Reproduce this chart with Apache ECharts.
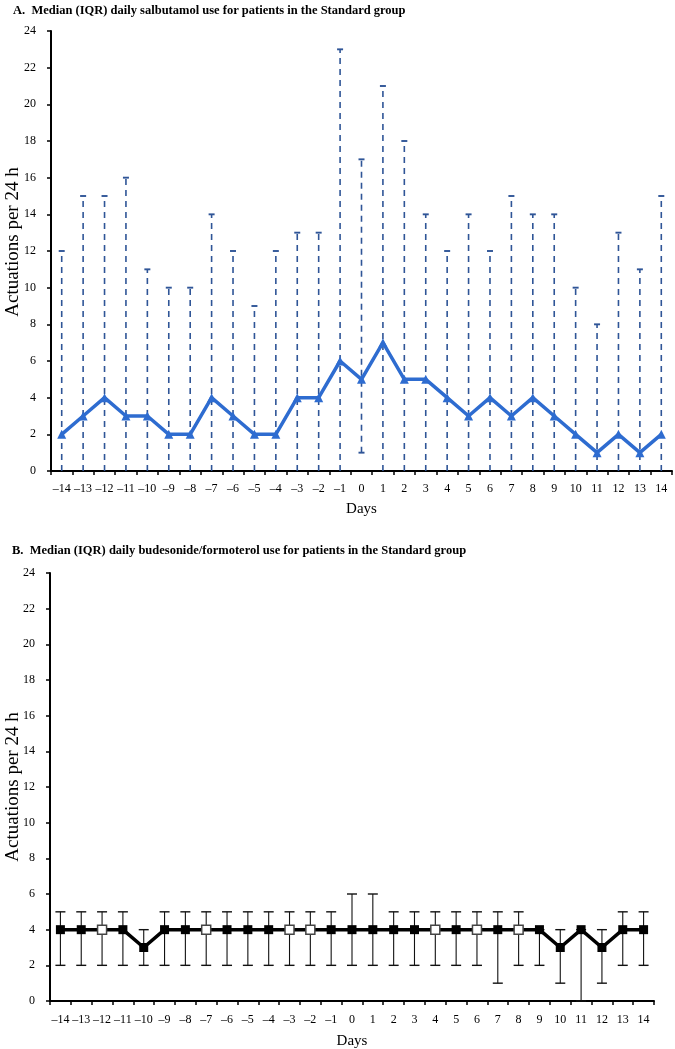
<!DOCTYPE html>
<html>
<head>
<meta charset="utf-8">
<script src="https://cdn.jsdelivr.net/npm/echarts@6/dist/echarts.min.js"></script>
<style>
html,body{margin:0;padding:0;background:#fff;}
#chart{width:675px;height:1049px;}
</style>
</head>
<body>
<div id="chart"></div>
<script>
// ---- data ----
const days = ['–14','–13','–12','–11','–10','–9','–8','–7','–6','–5','–4','–3','–2','–1','0','1','2','3','4','5','6','7','8','9','10','11','12','13','14'];
const yTicks = [0,2,4,6,8,10,12,14,16,18,20,22,24];

const salbMedian = [2,3,4,3,3,2,2,4,3,2,2,4,4,6,5,7,5,5,4,3,4,3,4,3,2,1,2,1,2];
const salbQ1     = [0,0,0,0,0,0,0,0,0,0,0,0,0,0,1,0,0,0,0,0,0,0,0,0,0,0,0,0,0];
const salbQ3     = [12,15,15,16,11,10,10,14,12,9,12,13,13,23,17,21,18,14,12,14,12,15,14,14,10,8,13,11,15];

const budMedian = [4,4,4,4,3,4,4,4,4,4,4,4,4,4,4,4,4,4,4,4,4,4,4,4,3,4,3,4,4];
const budQ1     = [2,2,2,2,2,2,2,2,2,2,2,2,2,2,2,2,2,2,2,2,2,1,2,2,1,0,1,2,2];
const budQ3     = [5,5,5,5,4,5,5,5,5,5,5,5,5,5,6,6,5,5,5,5,5,5,5,4,4,4,4,5,5];
const budHollow = [0,0,1,0,0,0,0,1,0,0,0,1,1,0,0,0,0,0,1,0,1,0,1,0,0,0,0,0,0];

const Y_NAME = 'Actuations per 24 h';
const FONT = '"Liberation Serif","Times New Roman",serif';

function errBar(color, width, dash, cap, skipZeroCap) {
  return function (params, api) {
    const x = api.value(0);
    const lo = api.coord([x, api.value(1)]);
    const hi = api.coord([x, api.value(2)]);
    const st = {stroke: color, lineWidth: width, lineDash: dash};
    const children = [
      {type:'line', shape:{x1:lo[0], y1:lo[1], x2:hi[0], y2:hi[1]}, style: st},
      {type:'line', shape:{x1:hi[0]-cap, y1:hi[1], x2:hi[0]+cap, y2:hi[1]}, style:{stroke:color, lineWidth: width+0.3}}
    ];
    if (!(skipZeroCap && api.value(1) === 0)) {
      children.push({type:'line', shape:{x1:lo[0]-cap, y1:lo[1], x2:lo[0]+cap, y2:lo[1]}, style:{stroke:color, lineWidth: width+0.3}});
    }
    return {type:'group', children};
  };
}

function xAxisCfg(idx, gap, margin) {
  return {
    type:'category', gridIndex: idx, data: days, boundaryGap: true,
    name:'Days', nameLocation:'middle', nameGap: gap,
    nameTextStyle:{fontFamily: FONT, fontSize: 15, color:'#000'},
    axisLine:{lineStyle:{color:'#000', width:2}},
    axisTick:{show:true, length:4, lineStyle:{color:'#000', width:1.5}},
    axisLabel:{fontFamily: FONT, fontSize: 12, color:'#000', interval:0, margin: margin}
  };
}
function yAxisCfg(idx) {
  return {
    type:'value', gridIndex: idx, min: yTicks[0], max: yTicks[yTicks.length-1], interval: 2,
    axisLine:{show:true, lineStyle:{color:'#000', width:2}},
    axisTick:{show:true, length:4, lineStyle:{color:'#000', width:1.5}},
    axisLabel:{fontFamily: FONT, fontSize: 12, color:'#000', margin: 15},
    splitLine:{show:false}
  };
}
function yName(cy) {
  return {
    type:'text', x: 13, y: cy, rotation: Math.PI / 2,
    style:{text: Y_NAME, font: '19px ' + FONT, fill:'#000', align:'center', verticalAlign:'middle'}
  };
}

const chart = echarts.init(document.getElementById('chart'));
chart.setOption({
  animation: false,
  backgroundColor:'#fff',
  title: [
    {text:'A.  Median (IQR) daily salbutamol use for patients in the Standard group', left: 8, top: -1,
     textStyle:{fontFamily: FONT, fontSize: 12.5, fontWeight:'bold', color:'#000'}},
    {text:'B.  Median (IQR) daily budesonide/formoterol use for patients in the Standard group', left: 7, top: 539,
     textStyle:{fontFamily: FONT, fontSize: 12.5, fontWeight:'bold', color:'#000'}}
  ],
  graphic: [yName(242), yName(787)],
  grid: [
    {left: 51, right: 3, top: 31, bottom: 578, outerBoundsMode: 'none', containLabel: false},
    {left: 50, right: 21, top: 573, bottom: 48, outerBoundsMode: 'none', containLabel: false}
  ],
  xAxis: [xAxisCfg(0, 31, 12), xAxisCfg(1, 33, 13)],
  yAxis: [yAxisCfg(0), yAxisCfg(1)],
  series: [
    {
      type:'custom', xAxisIndex:0, yAxisIndex:0, z: 1,
      renderItem: errBar('#2F5597', 1.6, [6,5], 3, true),
      data: days.map((d,i)=>[i, salbQ1[i], salbQ3[i]])
    },
    {
      type:'line', xAxisIndex:0, yAxisIndex:0, z: 3,
      data: salbMedian,
      lineStyle:{color:'#2E6CD0', width:3.5},
      itemStyle:{color:'#2E6CD0'},
      symbol:'triangle', symbolSize: 9, showSymbol: true
    },
    {
      type:'custom', xAxisIndex:1, yAxisIndex:1, z: 1,
      renderItem: errBar('#111', 1.1, null, 5, false),
      data: days.map((d,i)=>[i, budQ1[i], budQ3[i]])
    },
    {
      type:'line', xAxisIndex:1, yAxisIndex:1, z: 3,
      data: budMedian.map((v,i)=>({
        value: v,
        itemStyle: budHollow[i] ? {color:'#fff', borderColor:'#444', borderWidth:1.5} : {color:'#000'}
      })),
      lineStyle:{color:'#000', width:3.5},
      itemStyle:{color:'#000'},
      symbol:'rect', symbolSize: 9, showSymbol: true
    }
  ]
});
</script>
</body>
</html>
